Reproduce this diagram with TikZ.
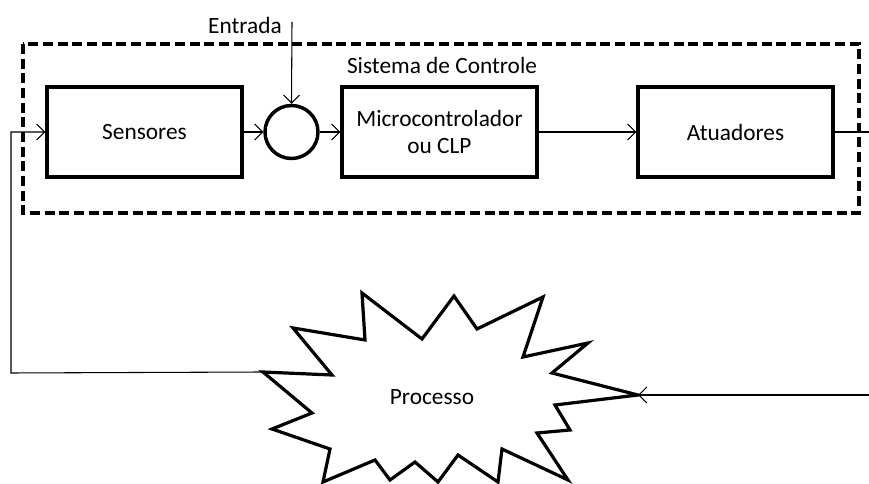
\documentclass[tikz,border=0pt]{standalone}
\usepackage{fontspec}
\setmainfont{Carlito}
\usetikzlibrary{arrows.meta}

\begin{document}
\begin{tikzpicture}[
		x=0.75pt, y=-0.75pt,
		font=\fontsize{17.5}{20.5}\selectfont,
		blk/.style={draw, line width=2.8pt, minimum width=146pt, minimum height=67.5pt, align=center},
		junc/.style={draw, circle, line width=2.6pt, minimum size=39.75pt, inner sep=0pt},
		conn/.style={line width=0.8pt, -{Straight Barb[length=6pt, width=12pt]}},
		frame/.style={line width=2.5pt, dash pattern=on 7.5pt off 3.5pt}
		]
		\useasboundingbox (0,0) rectangle (869,484);
		
		% control system frame
		\draw[frame] (23,44) rectangle (859,213);
		\node (sis) at (442,65) {Sistema de Controle};
		
		\node[blk] (sens) at (144.5,132) {Sensores};
		\node[junc] (sum) at (291.5,132) {};
		\node[blk] (micro) at (439.5,132) {Microcontrolador\\ou CLP};
		\node[blk] (atua) at (735.5,132) {Atuadores};
		
		\node (ent) at (245,25) {Entrada};
		\coordinate (entTop) at (292,22);
		
		% the process
		\draw[line width=2.4pt, line join=miter] (263,372) -- (332,375) -- (293,328) -- (365,340) -- (362,293)
			-- (422,339) -- (454,296) -- (477,329) -- (543,297) -- (523,357) -- (588,343)
			-- (552,373) -- (638,395) -- (555,405) -- (570,430) -- (537,433) -- (568,480)
			-- (502,449) -- (498,482) -- (458,455) -- (438,482) -- (415,462) -- (390,480)
			-- (375,460) -- (323,482) -- (330,449) -- (272,429) -- (312,413) -- cycle;
		\node (proc) at (432,397) {Processo};
		\coordinate (pl) at (263,372);
		\coordinate (pr) at (638,395);
		\coordinate (fbL) at (11,373);
		\coordinate (outR) at (869,132);
		\coordinate (inR) at (869,395);
		
		% connectors
		\draw[conn] (entTop) -- (sum.north);
		\draw[conn] (sens.east) -- (sum.west);
		\draw[conn] (sum.east) -- (micro.west);
		\draw[conn] (micro.east) -- (atua.west);
		\draw[line width=0.8pt] (atua.east) -- (outR);
		\draw[conn] (inR) -- (pr);
		\draw[conn] (pl) -- (fbL) |- (sens.west);
		
		\end{tikzpicture}
\end{document}
